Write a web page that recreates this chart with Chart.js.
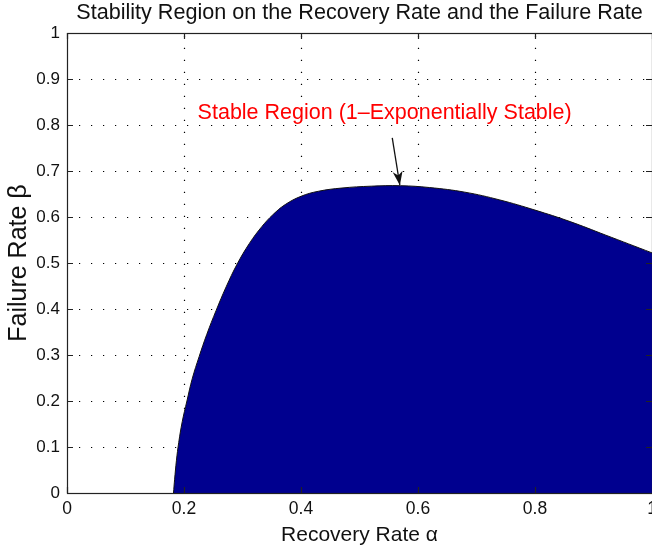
<!DOCTYPE html>
<html>
<head>
<meta charset="utf-8">
<script src="https://cdn.jsdelivr.net/npm/chart.js@4.4.1/dist/chart.umd.min.js"></script>
<style>
  html, body { margin:0; padding:0; background:#fff; overflow:hidden; }
  #wrap { width:652px; height:550px; overflow:hidden; position:relative; }
  canvas { display:block; }
</style>
</head>
<body>
<div id="wrap"><canvas id="c" width="700" height="550"></canvas></div>
<script>
// ---- data ----
const alphaValues = [0.182, 0.184, 0.187, 0.191, 0.197, 0.205, 0.214, 0.226, 0.239, 0.255, 0.272, 0.291, 0.312, 0.333, 0.352, 0.373, 0.400, 0.430, 0.470, 0.520, 0.570, 0.620, 0.680, 0.740, 0.800, 0.860, 0.920, 1.000];
const betaValues  = [0.000, 0.030, 0.070, 0.110, 0.155, 0.200, 0.248, 0.297, 0.345, 0.397, 0.448, 0.498, 0.543, 0.579, 0.605, 0.627, 0.645, 0.656, 0.663, 0.667, 0.668, 0.664, 0.654, 0.637, 0.615, 0.590, 0.561, 0.522];
const xTicks = [0, 0.2, 0.4, 0.6, 0.8, 1];
const xTickLabels = ['0', '0.2', '0.4', '0.6', '0.8', '1'];
const yTicks = [0, 0.1, 0.2, 0.3, 0.4, 0.5, 0.6, 0.7, 0.8, 0.9, 1];
const yTickLabels = ['0', '0.1', '0.2', '0.3', '0.4', '0.5', '0.6', '0.7', '0.8', '0.9', '1'];
const titleText = 'Stability Region on the Recovery Rate and the Failure Rate';
const xTitle = 'Recovery Rate \u03B1';
const yTitle = 'Failure Rate \u03B2';
const annotationText = 'Stable Region (1\u2013Exponentially Stable)';
const annotationTextAt = { x: 0.543, y: 0.825 };
const arrowFrom = { x: 0.556, y: 0.772 };
const arrowTo = { x: 0.569, y: 0.669 };

const FONT = "'Liberation Sans', Arial, Helvetica, sans-serif";

const matlabAxes = {
  id: 'matlabAxes',
  beforeDatasetsDraw(chart) {
    const { ctx, chartArea: a, scales: { x, y } } = chart;
    ctx.save();
    ctx.strokeStyle = '#000';
    ctx.lineWidth = 1.2;
    ctx.setLineDash([1.2, 10.8]);
    xTicks.forEach(v => {
      if (v === 0 || v === 1) return;
      const px = Math.round(x.getPixelForValue(v)) + 0.5;
      ctx.beginPath(); ctx.moveTo(px, a.bottom); ctx.lineTo(px, a.top); ctx.stroke();
    });
    yTicks.forEach(v => {
      if (v === 0 || v === 1) return;
      const py = Math.round(y.getPixelForValue(v)) + 0.5;
      ctx.beginPath(); ctx.moveTo(a.left, py); ctx.lineTo(a.right, py); ctx.stroke();
    });
    ctx.restore();
  },
  afterDatasetsDraw(chart) {
    const { ctx, chartArea: a, scales: { x, y } } = chart;
    ctx.save();
    ctx.strokeStyle = '#222';
    ctx.lineWidth = 1.2;
    ctx.setLineDash([]);
    ctx.strokeRect(a.left + 0.5, a.top + 0.5, a.right - a.left, a.bottom - a.top);
    const tl = 6;
    ctx.beginPath();
    xTicks.forEach(v => {
      const px = Math.round(x.getPixelForValue(v)) + 0.5;
      ctx.moveTo(px, a.bottom); ctx.lineTo(px, a.bottom - tl);
      ctx.moveTo(px, a.top); ctx.lineTo(px, a.top + tl);
    });
    yTicks.forEach(v => {
      const py = Math.round(y.getPixelForValue(v)) + 0.5;
      ctx.moveTo(a.left, py); ctx.lineTo(a.left + tl, py);
      ctx.moveTo(a.right, py); ctx.lineTo(a.right - tl, py);
    });
    ctx.stroke();

    // title centred over the plot area
    ctx.fillStyle = '#111';
    ctx.font = '21.6px ' + FONT;
    ctx.textAlign = 'center';
    ctx.textBaseline = 'alphabetic';
    ctx.fillText(titleText, (a.left + a.right) / 2, a.top - 14);

    // annotation
    ctx.fillStyle = '#ff0000';
    ctx.font = '21.5px ' + FONT;
    ctx.textBaseline = 'middle';
    ctx.fillText(annotationText, x.getPixelForValue(annotationTextAt.x), y.getPixelForValue(annotationTextAt.y));

    const x1 = x.getPixelForValue(arrowFrom.x), y1 = y.getPixelForValue(arrowFrom.y);
    const x2 = x.getPixelForValue(arrowTo.x), y2 = y.getPixelForValue(arrowTo.y);
    ctx.strokeStyle = '#111';
    ctx.lineWidth = 1.3;
    ctx.beginPath(); ctx.moveTo(x1, y1); ctx.lineTo(x2, y2); ctx.stroke();
    const ang = Math.atan2(y2 - y1, x2 - x1);
    const hl = 14, hw = 5;
    const bx = x2 - hl * Math.cos(ang), by = y2 - hl * Math.sin(ang);
    const mx = x2 - hl * 0.7 * Math.cos(ang), my = y2 - hl * 0.7 * Math.sin(ang);
    ctx.fillStyle = '#111';
    ctx.beginPath();
    ctx.moveTo(x2, y2);
    ctx.lineTo(bx + hw * Math.sin(ang), by - hw * Math.cos(ang));
    ctx.lineTo(mx, my);
    ctx.lineTo(bx - hw * Math.sin(ang), by + hw * Math.cos(ang));
    ctx.closePath();
    ctx.fill();
    ctx.restore();
  }
};

new Chart(document.getElementById('c'), {
  type: 'line',
  data: {
    datasets: [{
      data: alphaValues.map((a, i) => ({ x: a, y: betaValues[i] })),
      fill: 'origin',
      backgroundColor: '#00008f',
      borderColor: '#111',
      borderWidth: 1,
      pointRadius: 0,
      tension: 0.4
    }]
  },
  options: {
    responsive: false,
    animation: false,
    layout: { padding: { left: 4, right: 48, top: 33, bottom: 0 } },
    plugins: {
      legend: { display: false },
      tooltip: { enabled: false },
      title: { display: false }
    },
    scales: {
      x: {
        type: 'linear', min: 0, max: 1,
        afterBuildTicks: s => { s.ticks = xTicks.map(v => ({ value: v })); },
        afterFit: s => { s.height = 57; },
        grid: { display: false, drawTicks: false },
        border: { display: false },
        ticks: {
          color: '#111', padding: 6, maxRotation: 0, autoSkip: false,
          font: { family: FONT, size: 17.5 },
          callback: (v) => xTickLabels[xTicks.indexOf(v)] ?? ''
        },
        title: {
          display: true, text: xTitle, color: '#111',
          font: { family: FONT, size: 21 }, padding: { top: 0, bottom: 2 }
        }
      },
      y: {
        type: 'linear', min: 0, max: 1,
        afterBuildTicks: s => { s.ticks = yTicks.map(v => ({ value: v })); },
        afterFit: s => { s.width = 63; },
        grid: { display: false, drawTicks: false },
        border: { display: false },
        ticks: {
          color: '#111', padding: 7, autoSkip: false,
          font: { family: FONT, size: 17 },
          callback: (v) => yTickLabels[yTicks.findIndex(t => Math.abs(t - v) < 1e-9)] ?? ''
        },
        title: {
          display: true, text: yTitle, color: '#111',
          font: { family: FONT, size: 25 }, padding: { top: 0, bottom: 0 }
        }
      }
    }
  },
  plugins: [matlabAxes]
});
</script>
</body>
</html>
